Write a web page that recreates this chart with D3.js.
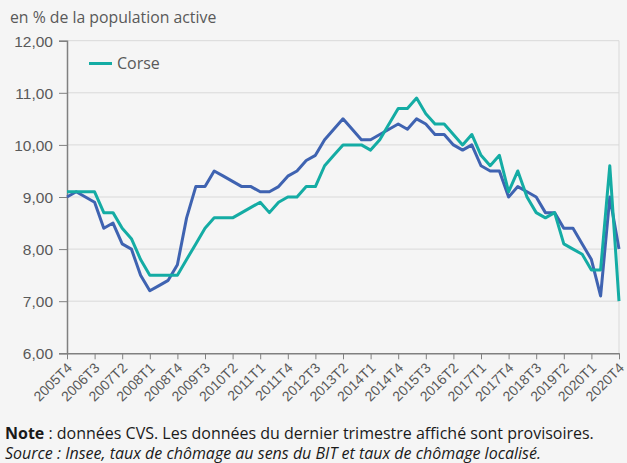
<!DOCTYPE html>
<html><head><meta charset="utf-8">
<script src="https://cdn.jsdelivr.net/npm/d3@7"></script>
<style>
html,body{margin:0;padding:0;background:#f5f5f5;}
svg{display:block;font-family:"Open Sans","Noto Sans",sans-serif;}
</style></head>
<body><svg id="c" width="627" height="463"></svg>
<script>
const quarters = (function(){ const q=[]; for(let y=2005;y<=2020;y++){for(let t=1;t<=4;t++){ if(y===2005&&t<4) continue; q.push(y+"T"+t);} } return q; })();
const tickLabels = ["2005T4","2006T3","2007T2","2008T1","2008T4","2009T3","2010T2","2011T1","2011T4","2012T3","2013T2","2014T1","2014T4","2015T3","2016T2","2017T1","2017T4","2018T3","2019T2","2020T1","2020T4"];
const yTicks = [6,7,8,9,10,11,12];
const france = [9.0,9.1,9.0,8.9,8.4,8.5,8.1,8.0,7.5,7.2,7.3,7.4,7.7,8.6,9.2,9.2,9.5,9.4,9.3,9.2,9.2,9.1,9.1,9.2,9.4,9.5,9.7,9.8,10.1,10.3,10.5,10.3,10.1,10.1,10.2,10.3,10.4,10.3,10.5,10.4,10.2,10.2,10.0,9.9,10.0,9.6,9.5,9.5,9.0,9.2,9.1,9.0,8.7,8.7,8.4,8.4,8.1,7.8,7.1,9.0,8.0];
const corse = [9.1,9.1,9.1,9.1,8.7,8.7,8.4,8.2,7.8,7.5,7.5,7.5,7.5,7.8,8.1,8.4,8.6,8.6,8.6,8.7,8.8,8.9,8.7,8.9,9.0,9.0,9.2,9.2,9.6,9.8,10.0,10.0,10.0,9.9,10.1,10.4,10.7,10.7,10.9,10.6,10.4,10.4,10.2,10.0,10.2,9.8,9.6,9.8,9.1,9.5,9.0,8.7,8.6,8.7,8.1,8.0,7.9,7.6,7.6,9.6,7.0];

const svg = d3.select("#c");
const L=67, R=619, T=40.7, B=353.3;
const x = d3.scalePoint().domain(quarters).range([L,R]);
const y = d3.scaleLinear().domain([6,12]).range([B,T]);
const fmt = v => d3.format(".2f")(v).replace(".",",");

// gridlines
svg.append("g").selectAll("line").data(yTicks.slice(1)).join("line")
  .attr("x1",L).attr("x2",R).attr("y1",d=>y(d)).attr("y2",d=>y(d))
  .attr("stroke","#d9d9d9").attr("stroke-width",1);
// right border
svg.append("line").attr("x1",R).attr("x2",R).attr("y1",T).attr("y2",B).attr("stroke","#d9d9d9");

// y axis
const ya = svg.append("g").attr("transform",`translate(${L},0)`)
  .call(d3.axisLeft(y).tickValues(yTicks).tickFormat(fmt).tickSize(8).tickPadding(6));
ya.select(".domain").attr("stroke","#808080").attr("stroke-width",1.5);
ya.selectAll(".tick line").attr("stroke","#808080");
ya.selectAll("text").attr("fill","#595959").style("font-size","15.5px").attr("dy","0.35em");

// x axis
const xa = svg.append("g").attr("transform",`translate(0,${B})`)
  .call(d3.axisBottom(x).tickValues(tickLabels).tickSize(6).tickSizeOuter(0).tickPadding(4));
xa.select(".domain").attr("stroke","#808080").attr("stroke-width",1.5);
xa.selectAll(".tick line").attr("stroke","#808080");
xa.selectAll("text").attr("fill","#595959").style("font-size","14px")
  .attr("text-anchor","end").attr("x",0).attr("y",0).attr("dy","0.35em")
  .attr("transform","translate(2,12) rotate(-45)");

// lines
const line = d3.line().x((d,i)=>x(quarters[i])).y(d=>y(d));
svg.append("path").datum(france).attr("d",line).attr("fill","none").attr("stroke","#3f63b1").attr("stroke-width",3).attr("stroke-linejoin","round");
svg.append("path").datum(corse).attr("d",line).attr("fill","none").attr("stroke","#14aca4").attr("stroke-width",3).attr("stroke-linejoin","round");

// title
svg.append("text").attr("x",10).attr("y",23).text("en % de la population active")
  .attr("fill","#595959").style("font-size","15.8px");

// legend
svg.append("line").attr("x1",89).attr("x2",112).attr("y1",63.5).attr("y2",63.5).attr("stroke","#14aca4").attr("stroke-width",3);
svg.append("text").attr("x",117).attr("y",69).text("Corse").attr("fill","#595959").style("font-size","16px");

// footer
const n = svg.append("text").attr("x",5).attr("y",439).attr("fill","#1a1a1a").style("font-size","16px");
n.append("tspan").attr("font-weight","bold").text("Note");
n.append("tspan").text(" : données CVS. Les données du dernier trimestre affiché sont provisoires.");
svg.append("text").attr("x",5).attr("y",459).attr("fill","#1a1a1a").style("font-size","16px").style("font-style","italic")
  .text("Source : Insee, taux de chômage au sens du BIT et taux de chômage localisé.");
</script></body></html>
